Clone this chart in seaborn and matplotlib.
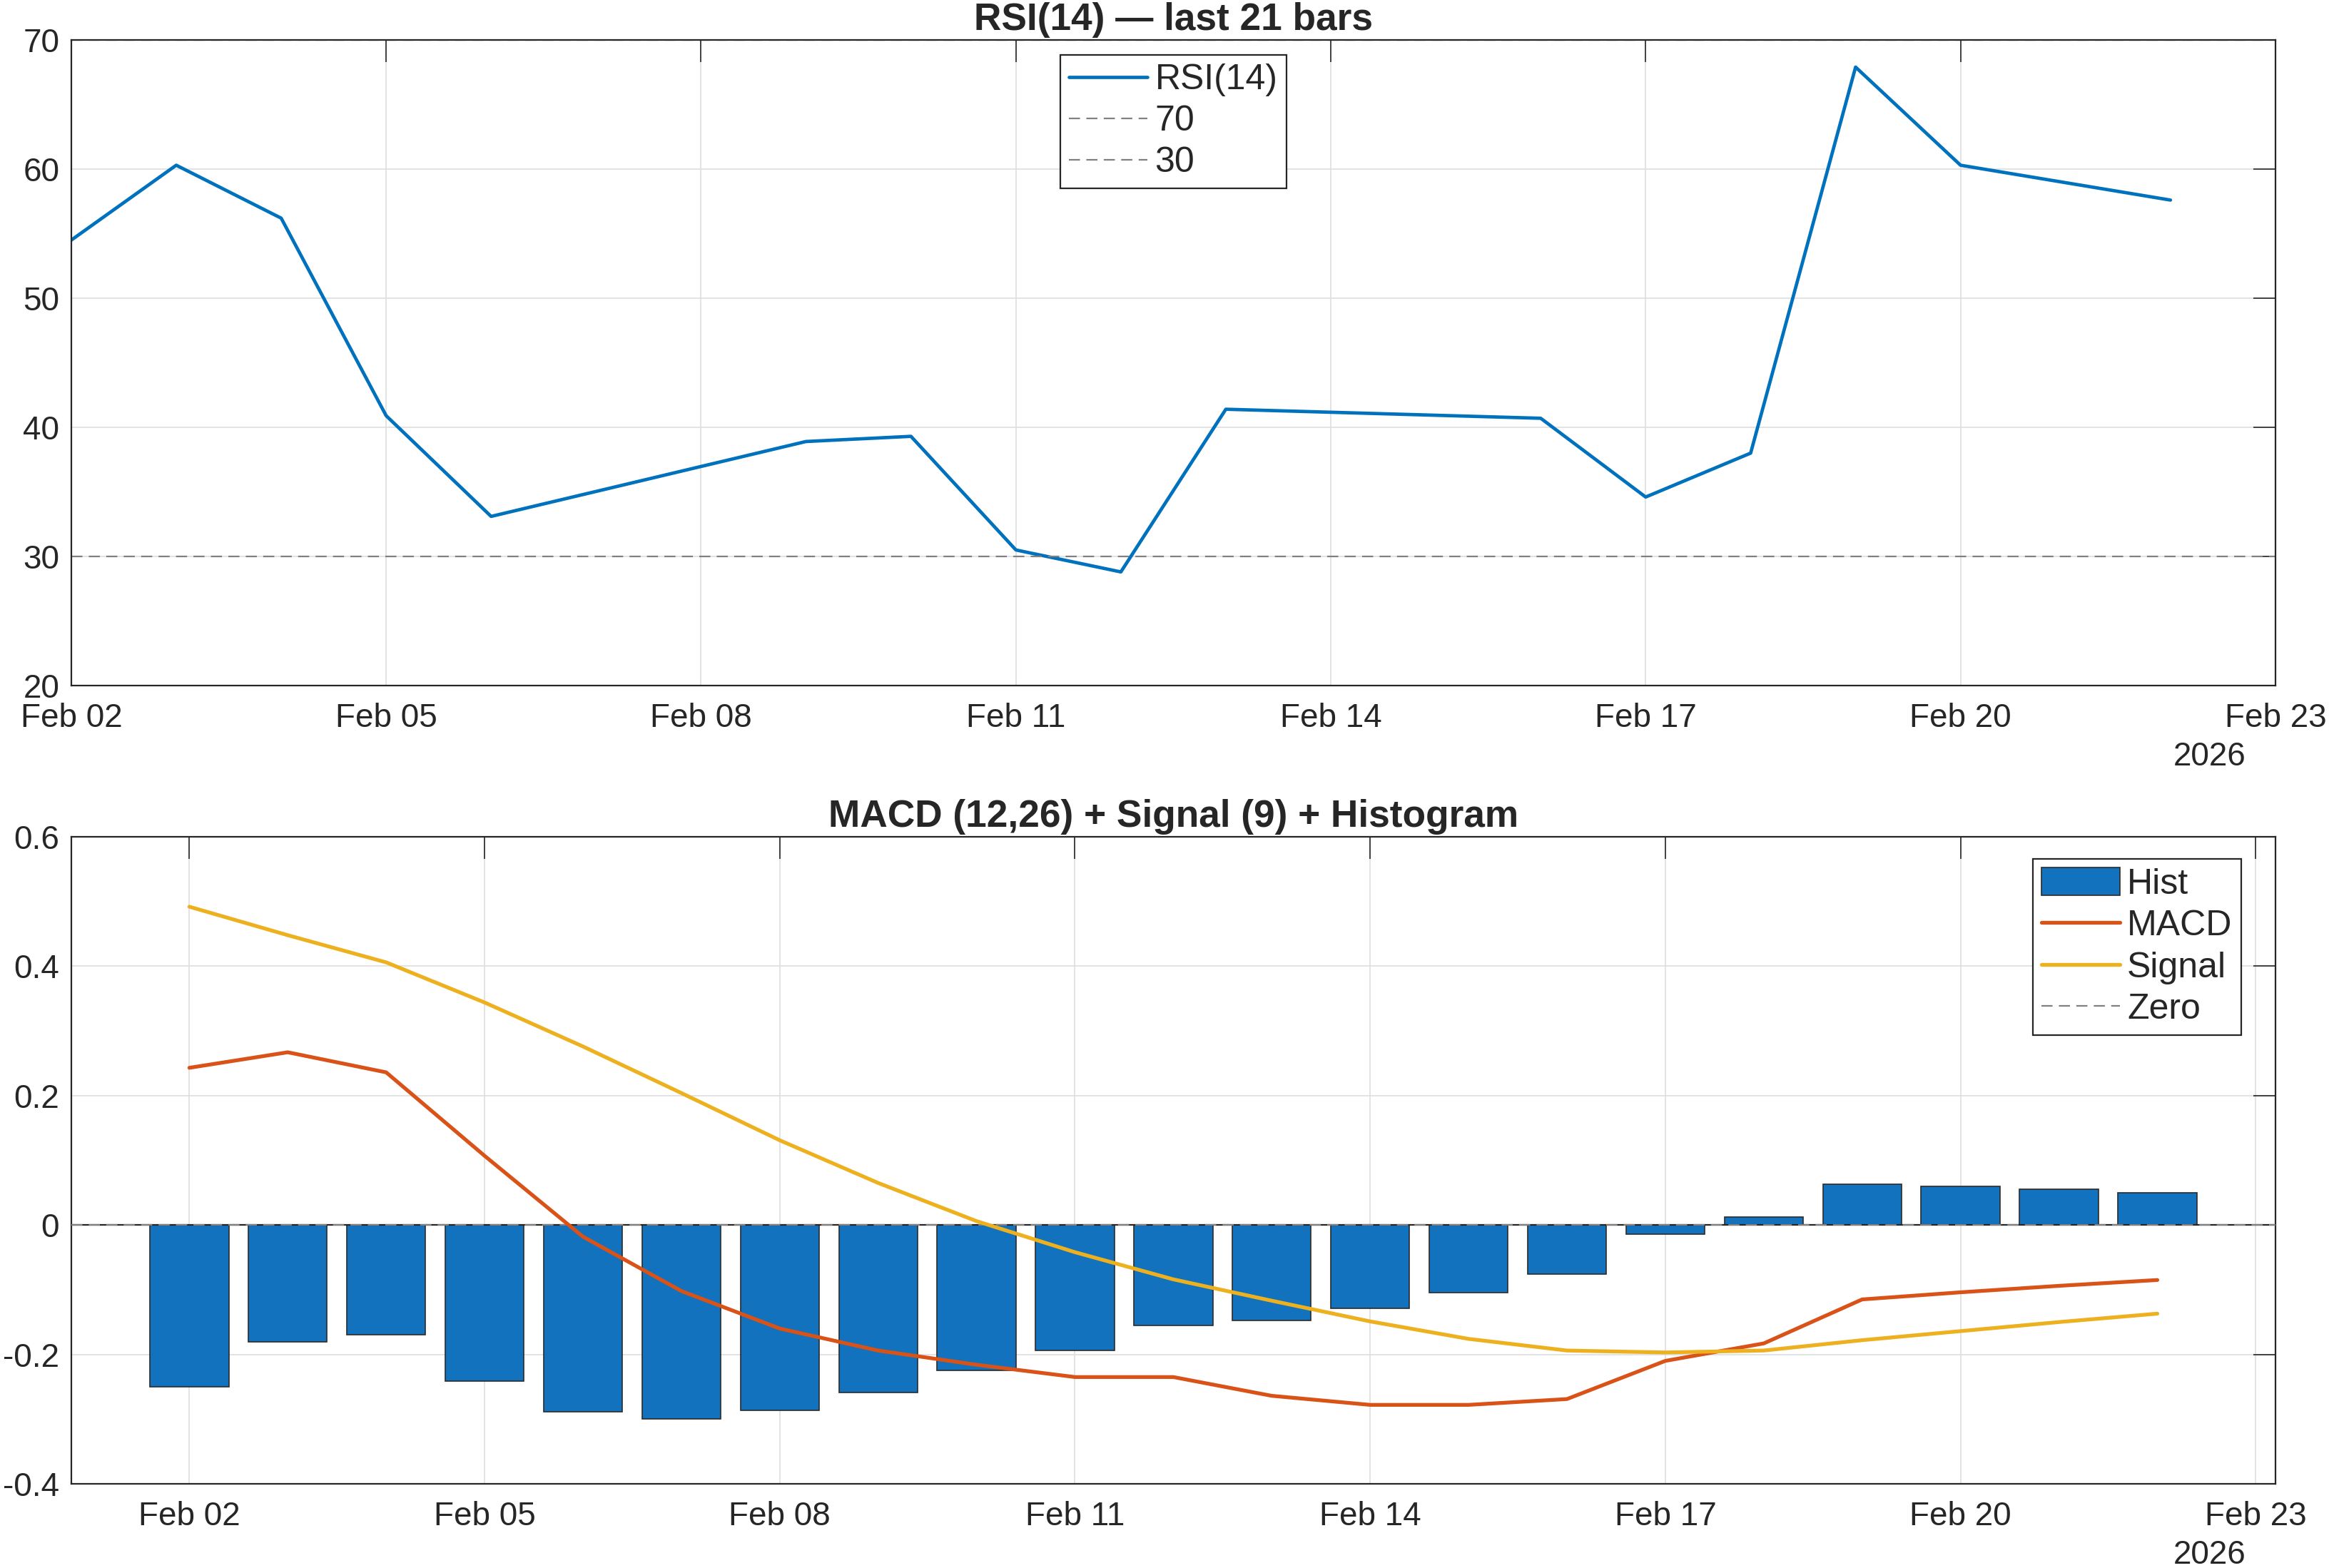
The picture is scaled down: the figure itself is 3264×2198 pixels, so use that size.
import numpy as np
import pandas as pd
import matplotlib
matplotlib.use('Agg')
import matplotlib.pyplot as plt
import matplotlib.dates as mdates
from matplotlib.ticker import FuncFormatter
import seaborn as sns

# Dados
rsi_dates = ['2026-02-02', '2026-02-03', '2026-02-04', '2026-02-05', '2026-02-06',
             '2026-02-09', '2026-02-10', '2026-02-11', '2026-02-12', '2026-02-13',
             '2026-02-16', '2026-02-17', '2026-02-18', '2026-02-19', '2026-02-20',
             '2026-02-22']
rsi_values = [54.5, 60.3, 56.2, 40.9, 33.1, 38.9, 39.3, 30.5, 28.8, 41.4,
              40.7, 34.6, 38.0, 67.9, 60.3, 57.6]

macd_dates = pd.date_range('2026-02-02', '2026-02-22', freq='D')
hist_values = [-0.250, -0.181, -0.170, -0.241, -0.289, -0.300, -0.287, -0.259,
               -0.225, -0.194, -0.155, -0.148, -0.129, -0.104, -0.076, -0.014,
               0.012, 0.063, 0.060, 0.055, 0.050]
macd_values = [0.243, 0.267, 0.236, 0.107, -0.018, -0.102, -0.160, -0.194,
               -0.216, -0.235, -0.235, -0.264, -0.278, -0.278, -0.269, -0.210,
               -0.183, -0.115, -0.104, -0.094, -0.085]
signal_values = [0.492, 0.448, 0.406, 0.344, 0.276, 0.204, 0.131, 0.065,
                 0.006, -0.042, -0.084, -0.117, -0.149, -0.176, -0.194, -0.197,
                 -0.194, -0.178, -0.164, -0.150, -0.137]

x_ticks = pd.date_range('2026-02-02', '2026-02-23', freq='3D')
rsi_yticks = [20, 30, 40, 50, 60, 70]
macd_yticks = [-0.4, -0.2, 0, 0.2, 0.4, 0.6]

BLUE = '#0072BD'
BAR_BLUE = '#1372BE'
ORANGE = '#D95319'
YELLOW = '#EDB120'
GRAY = '#808080'
DARK = '#262626'

sns.set_theme(style='white')
plt.rcParams['font.family'] = ['Liberation Sans', 'DejaVu Sans']
plt.rcParams['axes.unicode_minus'] = False
plt.rcParams['text.color'] = DARK
plt.rcParams['axes.labelcolor'] = DARK
plt.rcParams['xtick.color'] = DARK
plt.rcParams['ytick.color'] = DARK

fig = plt.figure(figsize=(16.32, 10.99), dpi=200)
ax1 = fig.add_axes([0.0306, 0.5628, 0.9464, 0.4117])
ax2 = fig.add_axes([0.0306, 0.0537, 0.9464, 0.4126])

legend_kw = dict(borderaxespad=0, fontsize=18, frameon=True, fancybox=False,
                 framealpha=1, edgecolor=DARK, borderpad=0.25, handlelength=2.2,
                 handletextpad=0.2, labelspacing=0.24)


def style_axes(ax):
    ax.set_axisbelow(True)
    ax.grid(True, color='#dedede', linewidth=0.6)
    for s in ax.spines.values():
        s.set_visible(True)
        s.set_color(DARK)
        s.set_linewidth(0.8)
    ax.tick_params(direction='in', top=True, right=True, length=11.2, width=0.6,
                   labelsize=16.5, colors=DARK)
    ax.tick_params(axis='x', pad=8.5)
    ax.tick_params(axis='y', pad=6)
    ax.set_xticks(x_ticks)
    ax.xaxis.set_major_formatter(mdates.DateFormatter('%b %d'))
    ax.set_xlabel('')
    ax.set_ylabel('')
    ax.annotate('2026', xy=(1, 0), xycoords='axes fraction', xytext=(-14.8, -28),
                textcoords='offset points', ha='right', va='top', fontsize=16.5,
                color=DARK)


# Painel superior: RSI
sns.lineplot(x=pd.to_datetime(rsi_dates), y=rsi_values, ax=ax1, color=BLUE,
             linewidth=1.7, label='RSI(14)')
ax1.axhline(70, color=GRAY, linestyle=(0, (7, 4)), linewidth=0.8, label='70')
ax1.axhline(30, color=GRAY, linestyle=(0, (7, 4)), linewidth=0.8, label='30')
ax1.set_xlim(pd.Timestamp('2026-02-02'), pd.Timestamp('2026-02-23'))
ax1.set_ylim(20, 70)
ax1.set_yticks(rsi_yticks)
style_axes(ax1)
ax1.set_title('RSI(14) \u2014 last 21 bars', fontsize=19.2, fontweight='bold', pad=5)
leg1 = ax1.legend(loc='upper center', bbox_to_anchor=(0.5, 0.977), **legend_kw)
leg1.get_frame().set_linewidth(0.8)

# Painel inferior: MACD + Signal + Histograma
ax2.bar(macd_dates, hist_values, width=0.8, color=BAR_BLUE, edgecolor='#2a2a2a',
        linewidth=0.6, label='Hist', zorder=2)
ax2.axhline(0, color=DARK, linewidth=0.8, zorder=2.5)
sns.lineplot(x=macd_dates, y=macd_values, ax=ax2, color=ORANGE, linewidth=1.9,
             label='MACD', zorder=3)
sns.lineplot(x=macd_dates, y=signal_values, ax=ax2, color=YELLOW, linewidth=1.9,
             label='Signal', zorder=3)
ax2.axhline(0, color=GRAY, linestyle=(0, (7, 4)), linewidth=0.8, label='Zero',
            zorder=2.6)
ax2.set_xlim(pd.Timestamp('2026-02-02') - pd.Timedelta(hours=28.8),
             pd.Timestamp('2026-02-23') + pd.Timedelta(hours=4.8))
ax2.set_ylim(-0.4, 0.6)
ax2.set_yticks(macd_yticks)
ax2.yaxis.set_major_formatter(FuncFormatter(lambda v, p: '%g' % round(v, 2)))
style_axes(ax2)
ax2.set_title('MACD (12,26) + Signal (9) + Histogram', fontsize=19.2,
              fontweight='bold', pad=5)

handles, labels = ax2.get_legend_handles_labels()
order = ['Hist', 'MACD', 'Signal', 'Zero']
hmap = dict(zip(labels, handles))
leg2 = ax2.legend([hmap[k] for k in order], order, loc='upper right',
                  bbox_to_anchor=(0.9845, 0.966), handleheight=0.8, **legend_kw)
leg2.get_frame().set_linewidth(0.8)

fig.savefig('out.png', dpi=200)
